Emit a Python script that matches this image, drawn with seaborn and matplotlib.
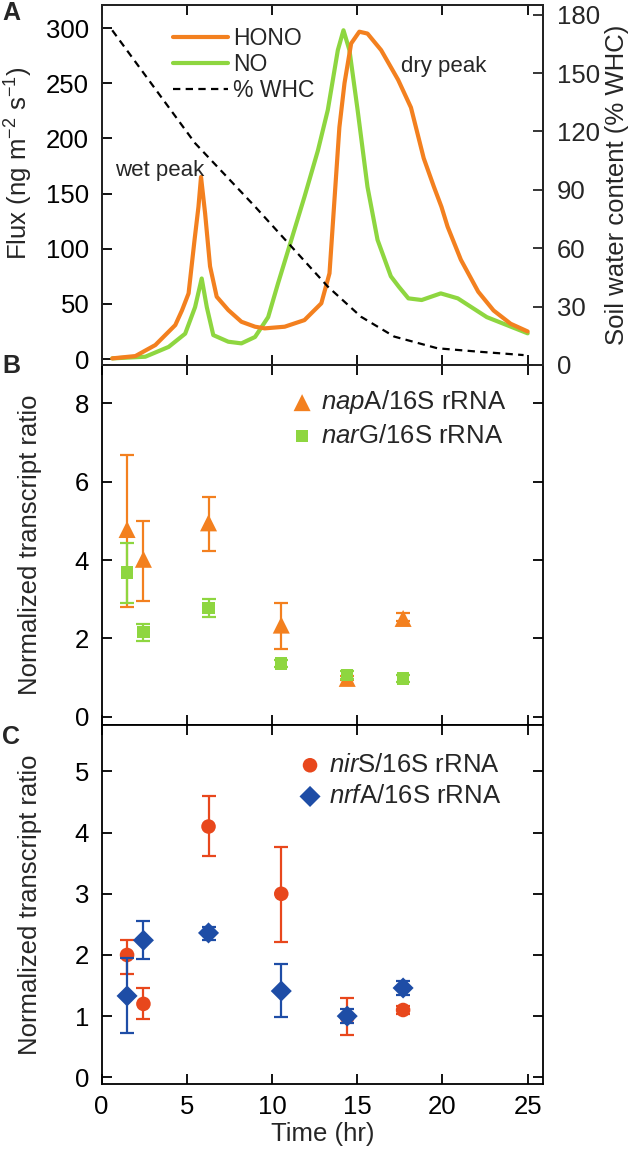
import numpy as np
import pandas as pd
import matplotlib
matplotlib.use("Agg")
import matplotlib.pyplot as plt
from matplotlib.lines import Line2D
import seaborn as sns

# ---------------- data ----------------
hono_t = [0.62, 1.98, 3.15, 4.32, 4.71, 5.10, 5.45, 5.68, 5.83, 6.07, 6.36, 6.75, 7.43, 8.20, 9.00,
          9.57, 10.74, 11.90, 12.89, 13.37, 13.66, 13.95, 14.25, 14.64, 15.12, 15.60, 16.40,
          17.40, 18.15, 18.90, 19.50, 19.94, 20.30, 21.08, 22.10, 23.00, 24.00, 25.00]
hono_f = [0.6, 2.7, 12.7, 30.8, 44, 59.5, 108, 138, 165, 132, 84, 56.5, 44.4, 33.8, 29.3,
          27.8, 29.3, 35.3, 50.5, 77.7, 144, 210, 250, 286, 296.7, 295, 280,
          253, 228, 182, 156, 138, 120, 90, 61, 44, 32, 25]

no_t = [0.62, 2.56, 3.93, 4.90, 5.48, 5.87, 6.17, 6.55, 7.43, 8.20, 9.00, 9.77, 10.35, 11.13,
        11.90, 12.69, 13.27, 13.86, 14.19, 14.54, 15.02, 15.60, 16.19, 16.97, 17.44, 18.00,
        18.78, 19.90, 20.90, 22.60, 25.00]
no_f = [0.6, 2.1, 11, 23, 47, 73, 47, 21.7, 15.7, 14.2, 20, 38, 68.6, 108,
        147, 189, 225.7, 280, 298, 280, 225.7, 156, 108, 75, 65.5, 55,
        53.5, 59.5, 55, 38, 23.3]

whc_t = [0.62, 5.48, 9.00, 11.13, 13.27, 15.22, 17.17, 19.70, 22.03, 24.76]
whc_v = [172, 114, 81.4, 60.9, 40.3, 24.8, 14.6, 8.6, 6.9, 5.1]

# transcript ratios
t_pts = [1.49, 2.45, 6.27, 10.54, 14.41, 17.69]
napA = [4.78, 4.02, 4.95, 2.34, 0.98, 2.51]
napA_lo = [2.81, 2.96, 4.23, 1.72, 0.93, 2.45]
napA_hi = [6.68, 5.00, 5.62, 2.91, 1.03, 2.66]
narG = [3.68, 2.17, 2.78, 1.36, 1.06, 0.98]
narG_lo = [2.91, 1.94, 2.55, 1.26, 0.96, 0.90]
narG_hi = [4.44, 2.37, 3.00, 1.46, 1.16, 1.06]

nirS = [2.00, 1.20, 4.10, 3.00, 0.98, 1.10]
nirS_lo = [1.69, 0.96, 3.61, 2.22, 0.69, 1.04]
nirS_hi = [2.25, 1.46, 4.60, 3.77, 1.30, 1.16]
nrfA = [1.33, 2.24, 2.36, 1.41, 1.00, 1.46]
nrfA_lo = [0.72, 1.94, 2.25, 0.98, 0.88, 1.35]
nrfA_hi = [1.95, 2.55, 2.46, 1.85, 1.12, 1.58]

# ---------------- style ----------------
sns.set_style("ticks")
plt.rcParams['font.family'] = ['Liberation Sans', 'DejaVu Sans']
plt.rcParams['mathtext.fontset'] = 'custom'
plt.rcParams['mathtext.rm'] = 'Liberation Sans'
plt.rcParams['mathtext.it'] = 'Liberation Sans:italic'
FS = 18.5

C_HONO = '#F3801F'
C_NO = '#8ED640'
C_RED = '#E8471C'
C_BLUE = '#1E4DA6'

fig = plt.figure(figsize=(6.3, 11.57), dpi=100)
L, W = 0.1614, 0.7005
axA = fig.add_axes([L, 0.68453, W, 0.31115])
axB = fig.add_axes([L, 0.37338, W, 0.31115])
axC = fig.add_axes([L, 0.06309, W, 0.31029])

XMAX = 25.9

def style_ax(ax, right=True):
    for s in ax.spines.values():
        s.set_linewidth(1.3)
        s.set_color('black')
    ax.tick_params(direction='in', length=7, width=1.3, labelsize=FS,
                   top=True, right=right, bottom=True, left=True, colors='black')
    ax.tick_params(axis='y', pad=9)
    ax.tick_params(axis='x', pad=8)
    ax.set_xlim(0, XMAX)
    ax.set_xticks([0, 5, 10, 15, 20, 25])

# ---------------- panel A ----------------
dfH = pd.DataFrame({'t': hono_t, 'f': hono_f})
dfN = pd.DataFrame({'t': no_t, 'f': no_f})
sns.lineplot(data=dfH, x='t', y='f', ax=axA, color=C_HONO, lw=3, sort=False,
             estimator=None, label='HONO', zorder=3)
sns.lineplot(data=dfN, x='t', y='f', ax=axA, color=C_NO, lw=3, sort=False,
             estimator=None, label='NO', zorder=2)
axA2 = axA.twinx()
dfW = pd.DataFrame({'t': whc_t, 'w': whc_v})
sns.lineplot(data=dfW, x='t', y='w', ax=axA2, color='black', lw=1.6, sort=False,
             estimator=None, legend=False)
axA2.lines[0].set_linestyle((0, (3.3, 2.4)))

style_ax(axA, right=False)
axA.set_ylim(-5.4, 320.9)
axA.set_yticks(np.arange(0, 301, 50))
axA.tick_params(labelbottom=False)
axA.set_xlabel('')
axA.set_ylabel(r'Flux (ng m$^{-2}$ s$^{-1}$)', fontsize=FS)
axA.yaxis.set_label_coords(-0.151, 0.56)

axA2.set_ylim(0, 185)
axA2.set_yticks(np.arange(0, 181, 30))
axA2.tick_params(direction='in', length=7, width=1.3, labelsize=FS, pad=10)
for s in axA2.spines.values():
    s.set_linewidth(1.3)
axA2.set_ylabel('Soil water content (% WHC)', fontsize=FS)
axA2.yaxis.set_label_coords(1.141, 0.5)
axA2.set_xlabel('')

handles, labels = axA.get_legend_handles_labels()
handles.append(Line2D([], [], color='black', lw=1.6, linestyle=(0, (3.3, 2.4))))
labels.append('% WHC')
axA.legend(handles, labels, loc='upper left', bbox_to_anchor=(0.162, 0.94),
           frameon=False, fontsize=16.5, handlelength=2.4, handletextpad=0.2,
           labelspacing=0.15, borderaxespad=0, borderpad=0)

axA.text(0.78, 171, 'wet peak', fontsize=16, ha='left', va='center')
axA.text(17.55, 265, 'dry peak', fontsize=16, ha='left', va='center')

# ---------------- panel B ----------------
def errs(v, lo, hi):
    v = np.array(v)
    return [v - np.array(lo), np.array(hi) - v]

axB.errorbar(t_pts, napA, yerr=errs(napA, napA_lo, napA_hi), fmt='none',
             ecolor=C_HONO, elinewidth=1.6, capsize=5, capthick=1.6, zorder=2)
sns.scatterplot(x=t_pts, y=napA, ax=axB, marker='^', s=150, color=C_HONO,
                edgecolor='none', label=r'$\it{nap}$A/16S rRNA', zorder=3)
axB.errorbar(t_pts, narG, yerr=errs(narG, narG_lo, narG_hi), fmt='none',
             ecolor=C_NO, elinewidth=1.6, capsize=5, capthick=1.6, zorder=4)
sns.scatterplot(x=t_pts, y=narG, ax=axB, marker='s', s=80, color=C_NO,
                edgecolor='none', label=r'$\it{nar}$G/16S rRNA', zorder=5)
style_ax(axB)
axB.set_ylim(-0.21, 8.98)
axB.set_yticks([0, 2, 4, 6, 8])
axB.tick_params(labelbottom=False)
axB.set_ylabel('Normalized transcript ratio', fontsize=FS)
axB.yaxis.set_label_coords(-0.135, 0.5)
axB.legend(loc='upper left', bbox_to_anchor=(0.425, 0.935), frameon=False,
           fontsize=FS, handlelength=1.0, handletextpad=0.25, labelspacing=0.28,
           borderaxespad=0, borderpad=0)

# ---------------- panel C ----------------
axC.errorbar(t_pts, nirS, yerr=errs(nirS, nirS_lo, nirS_hi), fmt='none',
             ecolor=C_RED, elinewidth=1.6, capsize=5, capthick=1.6, zorder=2)
sns.scatterplot(x=t_pts, y=nirS, ax=axC, marker='o', s=110, color=C_RED,
                edgecolor='none', label=r'$\it{nir}$S/16S rRNA', zorder=3)
axC.errorbar(t_pts, nrfA, yerr=errs(nrfA, nrfA_lo, nrfA_hi), fmt='none',
             ecolor=C_BLUE, elinewidth=1.6, capsize=5, capthick=1.6, zorder=4)
sns.scatterplot(x=t_pts, y=nrfA, ax=axC, marker='D', s=115, color=C_BLUE,
                edgecolor='none', label=r'$\it{nrf}$A/16S rRNA', zorder=5)
style_ax(axC)
axC.set_ylim(-0.11, 5.76)
axC.set_yticks([0, 1, 2, 3, 4, 5])
axC.set_xlabel('Time (hr)', fontsize=FS)
axC.xaxis.set_label_coords(0.5, -0.106)
axC.set_ylabel('Normalized transcript ratio', fontsize=FS)
axC.yaxis.set_label_coords(-0.135, 0.5)
axC.legend(loc='upper left', bbox_to_anchor=(0.443, 0.922), frameon=False,
           fontsize=FS, handlelength=1.0, handletextpad=0.25, labelspacing=0.28,
           borderaxespad=0, borderpad=0)

# panel letters
fig.text(0.003, 1 - 13/1157, 'A', fontsize=18, fontweight='bold', va='center', ha='left')
fig.text(0.003, 1 - 366/1157, 'B', fontsize=18, fontweight='bold', va='center', ha='left')
fig.text(0.003, 1 - 737/1157, 'C', fontsize=18, fontweight='bold', va='center', ha='left')

fig.savefig('out.png', dpi=100)
